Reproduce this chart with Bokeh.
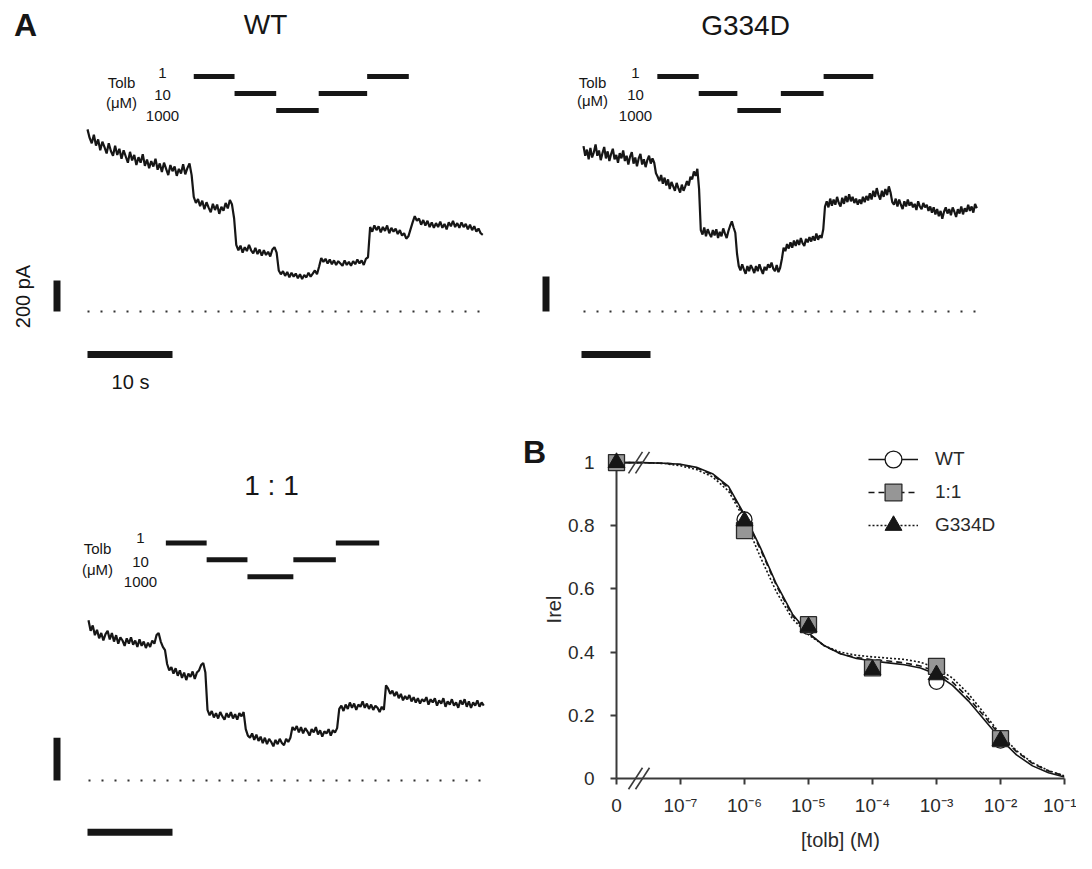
import numpy as np
from bokeh.plotting import figure
from bokeh.models import Label, Legend, LegendItem, FixedTicker, Range1d
from bokeh.layouts import column, row
from bokeh.core.properties import value
from bokeh.embed import file_html
from bokeh.resources import INLINE

FONT = "Liberation Sans"
INK = "#161616"

# ---------------- data: current traces (pA), sampled every DT seconds ----------------
DT = 0.25
wt_trace_pA = [
    1175, 1120, 1085, 1140, 1070, 1110, 1040, 1095, 1060, 1020, 1085, 1035,
    1005, 1070, 1010, 1050, 985, 1040, 1000, 960, 1030, 975, 1010, 945,
    995, 960, 1015, 940, 980, 925, 970, 935, 985, 915, 955, 900,
    960, 920, 880, 945, 905, 935, 875, 920, 890, 950, 885, 925,
    955, 880, 740, 700, 725, 680, 715, 660, 705, 670, 640, 695,
    655, 690, 630, 675, 650, 700, 665, 720, 690, 600, 430, 395,
    425, 380, 415, 390, 430, 395, 375, 410, 370, 400, 360, 395,
    365, 385, 355, 400, 415, 380, 265, 240, 260, 230, 255, 220,
    250, 225, 245, 215, 240, 210, 235, 220, 250, 225, 245, 265,
    240, 290, 345, 320, 340, 310, 335, 305, 330, 300, 325, 310,
    295, 330, 300, 320, 295, 325, 305, 335, 310, 330, 300, 340,
    350, 545, 515, 555, 525, 550, 510, 545, 520, 555, 505, 540,
    515, 535, 500, 525, 490, 505, 470, 485, 530, 575, 615, 585,
    600, 560, 590, 555, 585, 545, 575, 540, 570, 545, 580, 540,
    565, 530, 575, 550, 585, 545, 570, 540, 575, 545, 565, 530,
    560, 525, 550, 515, 535, 505, 495]
g334d_trace_pA = [
    945, 890, 925, 870, 935, 880, 910, 955, 890, 920, 865, 905,
    940, 875, 915, 860, 900, 930, 870, 895, 850, 905, 875, 920,
    860, 890, 840, 885, 910, 845, 880, 830, 875, 900, 840, 870,
    825, 865, 890, 845, 875, 850, 790, 770, 745, 780, 730, 765,
    720, 755, 700, 740, 715, 690, 735, 705, 680, 725, 690, 715,
    745, 720, 770, 755, 800, 775, 815, 700, 465, 440, 480, 430,
    470, 445, 425, 465, 435, 470, 420, 455, 430, 475, 445, 420,
    460, 490, 515, 480, 450, 330, 260, 235, 270, 240, 215, 260,
    230, 265, 245, 220, 260, 230, 270, 240, 215, 255, 235, 270,
    250, 280, 245, 230, 265, 225, 250, 300, 365, 345, 385, 360,
    395, 365, 405, 375, 410, 380, 420, 390, 375, 415, 395, 425,
    400, 430, 405, 445, 410, 435, 420, 470, 600, 630, 595, 645,
    605, 640, 610, 655, 620, 600, 650, 615, 660, 625, 670, 630,
    655, 620, 645, 610, 640, 615, 655, 625, 660, 635, 675, 640,
    690, 655, 705, 665, 640, 690, 655, 700, 665, 715, 680, 625,
    610, 645, 600, 640, 610, 585, 630, 600, 640, 605, 625, 595,
    615, 580, 630, 600, 585, 620, 595, 610, 575, 600, 565, 595,
    555, 585, 545, 575, 530, 570, 595, 560, 585, 550, 595, 570,
    540, 585, 560, 600, 555, 590, 570, 610, 575, 600, 565, 615,
    590]
mix_trace_pA = [
    750, 700, 725, 680, 705, 665, 690, 655, 685, 700, 660, 690,
    650, 680, 640, 670, 655, 630, 665, 640, 670, 635, 655, 625,
    660, 630, 650, 620, 645, 625, 655, 640, 680, 690, 650, 625,
    610, 545, 515, 530, 500, 525, 490, 515, 480, 505, 470, 500,
    485, 510, 475, 505, 515, 540, 550, 505, 330, 305, 325, 295,
    315, 290, 320, 300, 285, 315, 295, 320, 290, 310, 285, 315,
    300, 320, 240, 210, 200, 220, 190, 215, 185, 205, 175, 200,
    170, 195, 180, 160, 190, 170, 195, 175, 165, 195, 180, 200,
    250, 235, 255, 225, 250, 220, 245, 230, 210, 240, 225, 250,
    215, 235, 205, 230, 220, 240, 210, 235, 225, 245, 335, 350,
    325, 355, 335, 365, 340, 360, 330, 355, 345, 370, 340, 360,
    335, 355, 330, 350, 340, 320, 345, 330, 445, 430, 405, 420,
    395, 415, 385, 405, 375, 395, 380, 400, 370, 390, 365, 385,
    360, 380, 370, 390, 355, 380, 365, 385, 350, 375, 360, 385,
    345, 370, 355, 380, 350, 365, 340, 375, 355, 380, 345, 370,
    340, 365, 350, 375, 345, 365, 350]

# tolbutamide applications (s) and concentrations (uM)
conc_levels = ["1", "10", "1000"]
appl_conc = ["1", "10", "1000", "10", "1"]
wt_appl_start = [12.5, 17.3, 22.2, 27.2, 32.9]
wt_appl_end = [17.3, 22.2, 27.2, 32.9, 37.8]
g334d_appl_start = [10.7, 16.7, 22.3, 28.6, 34.8]
g334d_appl_end = [16.7, 22.3, 28.6, 34.8, 42.0]
mix_appl_start = [9.1, 13.9, 18.7, 24.1, 29.1]
mix_appl_end = [13.9, 18.7, 24.1, 29.1, 34.2]

SCALE_PA = 200
SCALE_S = 10

# ---------------- data: panel B ----------------
conc_M = [0, 1e-6, 1e-5, 1e-4, 1e-3, 1e-2]
wt_irel = [1.0, 0.82, 0.48, 0.35, 0.306, 0.12]
mix_irel = [1.0, 0.785, 0.487, 0.35, 0.355, 0.126]
g334d_irel = [1.0, 0.815, 0.48, 0.345, 0.328, 0.12]

fit_log_conc = [-7.6, -7.25, -7.0, -6.75, -6.5, -6.25, -6.0, -5.75, -5.5, -5.25,
                -5.0, -4.75, -4.5, -4.25, -4.0, -3.75, -3.5, -3.25, -3.0, -2.75,
                -2.5, -2.25, -2.0, -1.75, -1.5, -1.25, -1.0]
wt_fit = [1.0, 0.998, 0.995, 0.985, 0.965, 0.925, 0.835, 0.73, 0.615, 0.52,
          0.46, 0.42, 0.395, 0.38, 0.372, 0.366, 0.36, 0.35, 0.33, 0.295,
          0.245, 0.185, 0.125, 0.075, 0.04, 0.018, 0.005]
mix_fit = [1.0, 0.998, 0.994, 0.983, 0.962, 0.92, 0.83, 0.725, 0.61, 0.515,
           0.458, 0.42, 0.395, 0.383, 0.376, 0.372, 0.366, 0.356, 0.338, 0.305,
           0.255, 0.196, 0.135, 0.085, 0.048, 0.024, 0.008]
g334d_fit = [1.0, 0.997, 0.99, 0.978, 0.955, 0.91, 0.82, 0.70, 0.59, 0.505,
             0.455, 0.42, 0.40, 0.39, 0.385, 0.381, 0.377, 0.368, 0.35, 0.318,
             0.268, 0.205, 0.14, 0.088, 0.05, 0.025, 0.008]

x_tick_pos = [-8, -7, -6, -5, -4, -3, -2, -1]
x_tick_labels = ["0", "10⁻⁷", "10⁻⁶", "10⁻⁵", "10⁻⁴", "10⁻³", "10⁻²", "10⁻¹"]
y_tick_pos = [0, 0.2, 0.4, 0.6, 0.8, 1]
y_tick_labels = ["0", "0.2", "0.4", "0.6", "0.8", "1"]
ZERO_X = -8  # position of the "0" concentration, left of the axis break
series_names = ["WT", "1:1", "G334D"]

# panel B geometry (pixels)
BX0, BY0 = 510, 430
BW, BH = 566, 423
BL, BR, BT, BB = 106, 12, 10, 73
Y_TOP = 1.07


def lab(p, x, y, text, size, bold=False, angle=0.0, align="center", color=INK):
    p.add_layout(Label(x=x, y=y, text=text, text_font=FONT,
                       text_font_size=f"{size}px",
                       text_font_style="bold" if bold else "normal",
                       text_align=align, text_baseline="middle",
                       angle=angle, text_color=color))


def trace_panel(cfg, trace, starts, ends):
    X0, Y0, W, H = cfg["box"]
    bt, bb = cfg.get("borders", (0, 0))
    ox, oy = cfg["origin"]
    sx, sy = cfg["sx"], cfg["sy"]

    def dx(X):
        return (X - ox) / sx

    def dy(Y):
        return (oy - Y) / sy

    p = figure(width=W, height=H, x_range=Range1d(dx(X0), dx(X0 + W)),
               y_range=Range1d(dy(Y0 + H - bb), dy(Y0 + bt)), output_backend="svg",
               toolbar_location=None, min_border_left=0, min_border_right=0,
               min_border_top=bt, min_border_bottom=bb, x_axis_location=None,
               y_axis_location=None, outline_line_color=None)
    p.xgrid.visible = False
    p.ygrid.visible = False
    t = np.arange(len(trace)) * DT
    p.line([0, t[-1]], [0, 0], line_dash="2 11", line_width=2, color="#333333",
           level="overlay")
    p.line(t, trace, line_width=2.2, color=INK, level="overlay")
    ys = [dy(cfg["rows"][c]) for c in appl_conc]
    p.segment(x0=starts, y0=ys, x1=ends, y1=ys, line_width=5, color=INK, level="overlay")
    vx = dx(cfg["vbar_x"])
    p.segment(x0=[vx], y0=[0], x1=[vx], y1=[SCALE_PA], line_width=7, color=INK,
              level="overlay")
    hx, hy = cfg["hbar"]
    p.segment(x0=[dx(hx)], y0=[dy(hy)], x1=[dx(hx) + SCALE_S], y1=[dy(hy)],
              line_width=7, color=INK, level="overlay")
    tt, tx, ty = cfg["title"]
    lab(p, dx(tx), dy(ty), tt, 28)
    lab(p, dx(cfg["tolb_x"]), dy(cfg["tolb_y"][0]), "Tolb", 15)
    lab(p, dx(cfg["tolb_x"]), dy(cfg["tolb_y"][1]), "(μM)", 15)
    for c in conc_levels:
        lab(p, dx(cfg["num_x"]), dy(cfg["num_y"][c]), c, 15)
    for text, X, Y, size, bold, ang in cfg.get("extra", []):
        lab(p, dx(X), dy(Y), text, size, bold=bold, angle=ang)
    return p


wt_cfg = dict(box=(0, 0, 510, 430), origin=(87, 311), sx=8.5, sy=0.155,
              title=("WT", 265, 24), tolb_x=121, tolb_y=(82, 102), num_x=162,
              num_y={"1": 72, "10": 94, "1000": 115},
              rows={"1": 76, "10": 93, "1000": 110},
              vbar_x=56.5, hbar=(87, 354),
              extra=[("A", 25, 24, 32, True, 0.0),
                     ("200 pA", 22, 296, 20, False, np.pi / 2),
                     ("10 s", 130, 381, 20, False, 0.0)])
g_cfg = dict(box=(510, 0, 566, 430), origin=(583, 311), sx=6.9, sy=0.175,
             title=("G334D", 745, 25), tolb_x=592, tolb_y=(82, 100), num_x=635,
             num_y={"1": 72, "10": 94, "1000": 115},
             rows={"1": 76, "10": 93, "1000": 110},
             vbar_x=545.5, hbar=(581, 354))
# same top/bottom borders as panel B: plots in one row get their frames aligned
mix_cfg = dict(box=(0, 430, 510, 423), borders=(BT, BB), origin=(88, 782),
               sx=8.5, sy=0.215,
               title=("1 : 1", 271, 485), tolb_x=97, tolb_y=(549, 570), num_x=140,
               num_y={"1": 538, "10": 562, "1000": 582},
               rows={"1": 543, "10": 560, "1000": 577},
               vbar_x=56.5, hbar=(87, 834))

p_wt = trace_panel(wt_cfg, wt_trace_pA, wt_appl_start, wt_appl_end)
p_g = trace_panel(g_cfg, g334d_trace_pA, g334d_appl_start, g334d_appl_end)
p_mix = trace_panel(mix_cfg, mix_trace_pA, mix_appl_start, mix_appl_end)

# ---------------- panel B ----------------
pB = figure(width=BW, height=BH, x_range=Range1d(-8, -1), y_range=Range1d(0, Y_TOP),
            output_backend="svg", toolbar_location=None,
            min_border_left=BL, min_border_right=BR, min_border_top=BT,
            min_border_bottom=BB, outline_line_color=None)
pB.xgrid.visible = False
pB.ygrid.visible = False
ppd = (BW - BL - BR) / 7.0
ppu = (BH - BT - BB) / Y_TOP
FRAME_LEFT = BX0 + BL
FRAME_BOTTOM = BY0 + BH - BB


def bx(X):
    return -8 + (X - FRAME_LEFT) / ppd


def by(Y):
    return (FRAME_BOTTOM - Y) / ppu


AX = "#3a3a3a"
for ax in (pB.xaxis[0], pB.yaxis[0]):
    ax.axis_line_width = 2
    ax.axis_line_color = AX
    ax.major_tick_line_width = 2
    ax.major_tick_line_color = AX
    ax.major_tick_out = 6
    ax.major_tick_in = 0
    ax.minor_tick_line_color = None
    ax.major_label_text_font = FONT
    ax.major_label_text_font_size = "19px"
    ax.major_label_text_color = "#2a2a2a"
    ax.axis_label_text_font = FONT
    ax.axis_label_text_font_size = "20px"
    ax.axis_label_text_font_style = "normal"
    ax.axis_label_text_color = "#2a2a2a"

xa = pB.xaxis[0]
xa.ticker = FixedTicker(ticks=x_tick_pos)
xa.major_label_overrides = dict(zip(x_tick_pos, x_tick_labels))
xa.bounds = (-8, -1)
xa.axis_label = "[tolb] (M)"
xa.major_label_standoff = 10
xa.axis_label_standoff = 10

ya = pB.yaxis[0]
ya.ticker = FixedTicker(ticks=y_tick_pos)
ya.major_label_overrides = dict(zip(y_tick_pos, y_tick_labels))
ya.bounds = (0, 1)
ya.axis_label = "Irel"
ya.major_label_standoff = 16
ya.axis_label_standoff = 0

px_data = [ZERO_X if c == 0 else float(np.log10(c)) for c in conc_M]
fx = [ZERO_X] + fit_log_conc

l_wt = pB.line(fx, [wt_irel[0]] + wt_fit, line_width=1.6, color=INK)
l_mix = pB.line(fx, [mix_irel[0]] + mix_fit, line_width=1.6, color=INK, line_dash="6 4")
l_g = pB.line(fx, [g334d_irel[0]] + g334d_fit, line_width=1.6, color=INK, line_dash="2 2")

# axis break marks
for yb in (0.0, 1.0):
    pB.segment(x0=[bx(628), bx(635)], y0=[yb - 0.034] * 2, x1=[bx(642), bx(649)],
               y1=[yb + 0.034] * 2, line_width=1.6, color=AX, level="overlay")

s_wt = pB.scatter(px_data, wt_irel, marker="circle", size=15, fill_color="white",
                  line_color=INK, line_width=1.3, level="overlay")
s_mix = pB.scatter(px_data, mix_irel, marker="square", size=16, fill_color="#969696",
                   line_color="#2a2a2a", line_width=1.3, level="overlay")
s_g = pB.scatter(px_data, g334d_irel, marker="triangle", size=17, fill_color=INK,
                 line_color=INK, line_width=1.0, level="overlay")

# one single-row legend per series, so each row sits at its own height
LEG_GH = 42
leg_rows = [461, 494, 527]
for name, rends, yc in zip(series_names, [[l_wt, s_wt], [l_mix, s_mix], [l_g, s_g]], leg_rows):
    lg = Legend(items=[LegendItem(label=name, renderers=rends)],
                location=(868 - FRAME_LEFT, FRAME_BOTTOM - (yc + LEG_GH / 2)),
                glyph_width=50, glyph_height=LEG_GH, label_height=LEG_GH,
                spacing=0, padding=0, margin=0, label_standoff=17,
                label_text_font=FONT, label_text_font_size="19px",
                label_text_color="#2a2a2a", border_line_color=None,
                background_fill_alpha=0)
    pB.add_layout(lg)

pB.text(x=[bx(534)], y=[by(452)], text=["B"], text_font=value(FONT),
        text_font_size="32px", text_font_style="bold", text_align="center",
        text_baseline="middle", text_color=INK, level="overlay")

layout = column(row(p_wt, p_g), row(p_mix, pB))
open("out.html", "w").write(file_html(layout, INLINE))
